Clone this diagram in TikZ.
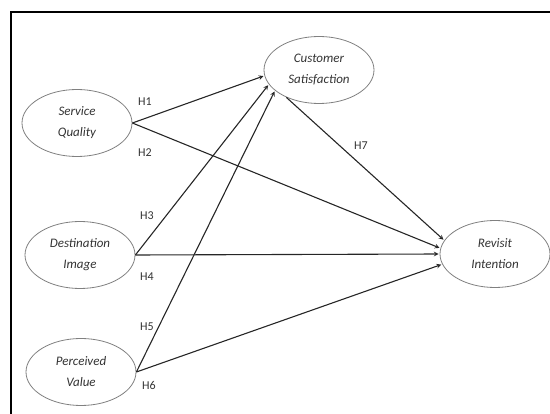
\documentclass[tikz,border=0pt]{standalone}
\usepackage{fontspec}
\setmainfont{Carlito}
\usetikzlibrary{shapes.geometric}

\definecolor{inkgray}{HTML}{333333}
\definecolor{rimgray}{HTML}{808080}

\begin{document}
\begin{tikzpicture}[x=1pt,y=-1pt,
  construct/.style={ellipse,draw=rimgray,line width=0.8pt,minimum width=110pt,minimum height=67pt,
    inner sep=0pt,align=center,text=inkgray,font=\itshape\fontsize{13}{21}\selectfont},
  effect/.style={->,>=stealth,line width=1.1pt,draw=black!85,shorten >=1pt},
  hyp/.style={inner sep=0pt,text=inkgray,font=\fontsize{12}{14}\selectfont}]

\useasboundingbox (0,0) rectangle (550,414);

% Frame (runs off the right and bottom edges)
\draw[line width=1.5pt] (11,420) |- (556,12);

% Constructs
\node[construct] (sq) at (77,123) {Service\\Quality};
\node[construct] (di) at (80,255) {Destination\\Image};
\node[construct] (pv) at (81,372) {Perceived\\Value};
\node[construct] (cs) at (319,70) {Customer\\Satisfaction};
\node[construct] (ri) at (495,254) {Revisit\\Intention};

% Paths into Customer Satisfaction
\draw[effect] (sq.east) -- (cs.186);
\draw[effect] (di.east) -- (cs.196);
\draw[effect] (pv.east) -- (cs.205);

% Paths into Revisit Intention
\draw[effect] (cs.220) -- (ri.165);
\draw[effect] (sq.east) -- (ri.174);
\draw[effect] (di.east) -- (ri.west);
\draw[effect] (pv.east) -- (ri.191);

% Hypothesis labels
\node[hyp] (h1) at (145,102) {H1};
\node[hyp] (h2) at (145,153) {H2};
\node[hyp] (h3) at (147,216) {H3};
\node[hyp] (h4) at (147,277) {H4};
\node[hyp] (h5) at (147,327) {H5};
\node[hyp] (h6) at (149,385) {H6};
\node[hyp] (h7) at (361,146) {H7};

\end{tikzpicture}
\end{document}
